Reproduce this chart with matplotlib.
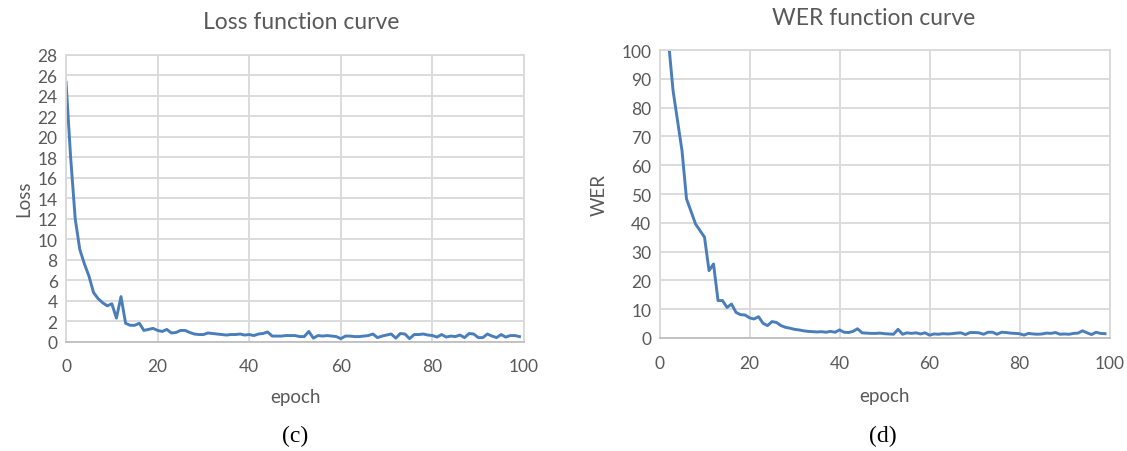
import matplotlib.pyplot as plt

# Loss per epoch (epochs 0..99)
loss_epochs = list(range(0, 100))
loss_values = [
    25.3, 18.0, 12.0, 9.0, 7.6, 6.4, 4.8, 4.2, 3.8, 3.5,
    3.7, 2.3, 4.4, 1.8, 1.6, 1.6, 1.8, 1.1, 1.2, 1.3,
    1.1, 1.0, 1.2, 0.85, 0.9, 1.1, 1.1, 0.9, 0.75, 0.7,
    0.7, 0.85, 0.8, 0.75, 0.7, 0.65, 0.7, 0.7, 0.75, 0.65,
    0.7, 0.6, 0.75, 0.8, 0.95, 0.55, 0.55, 0.55, 0.6, 0.6,
    0.6, 0.5, 0.5, 1.0, 0.35, 0.6, 0.55, 0.6, 0.55, 0.5,
    0.3, 0.55, 0.55, 0.5, 0.5, 0.55, 0.6, 0.75, 0.4, 0.55,
    0.65, 0.75, 0.35, 0.8, 0.75, 0.3, 0.7, 0.7, 0.75, 0.65,
    0.6, 0.45, 0.7, 0.45, 0.55, 0.5, 0.65, 0.4, 0.8, 0.75,
    0.4, 0.4, 0.75, 0.55, 0.4, 0.7, 0.45, 0.6, 0.6, 0.5,
]

# WER per epoch (epochs 2..99, earlier values are off the chart)
wer_epochs = list(range(2, 100))
wer_values = [
    103, 86, 75.5, 65, 48.3, 44, 39.6, 37.3, 35,
    23.4, 25.7, 13, 13, 10.6, 11.8, 8.9, 8.1, 8.0, 7.0,
    6.6, 7.4, 5.1, 4.3, 5.7, 5.4, 4.3, 3.7, 3.4, 3.0,
    2.8, 2.5, 2.3, 2.2, 2.1, 2.2, 2.0, 2.3, 2.0, 2.8,
    2.0, 1.9, 2.3, 3.2, 1.8, 1.7, 1.6, 1.6, 1.7, 1.5,
    1.4, 1.3, 3.0, 1.3, 1.8, 1.6, 1.8, 1.4, 1.8, 1.0,
    1.4, 1.3, 1.5, 1.4, 1.5, 1.7, 1.8, 1.2, 1.9, 1.9,
    1.8, 1.3, 2.0, 2.0, 1.3, 2.0, 1.9, 1.7, 1.6, 1.5,
    1.0, 1.6, 1.4, 1.3, 1.4, 1.7, 1.6, 1.9, 1.3, 1.4,
    1.3, 1.6, 1.7, 2.5, 1.8, 1.2, 2.0, 1.6, 1.5,
]

x_ticks = [0, 20, 40, 60, 80, 100]
loss_ticks = list(range(0, 29, 2))
wer_ticks = list(range(0, 101, 10))

plt.rcParams['font.family'] = ['Lato', 'DejaVu Sans']
texto = '#595959'
grade = '#d9d9d9'
azul = '#4a7ebb'

fig = plt.figure(figsize=(11.27, 4.52), dpi=100)
ax1 = fig.add_axes([0.0586, 0.2418, 0.4064, 0.635])
ax2 = fig.add_axes([0.5852, 0.25, 0.3993, 0.637])


def estilo(ax, yticks, ylim):
    ax.set_xlim(0, 100)
    ax.set_ylim(*ylim)
    ax.set_xticks(x_ticks)
    ax.set_yticks(yticks)
    ax.grid(True, color=grade, linewidth=1.3)
    ax.set_axisbelow(True)
    ax.tick_params(length=0, labelsize=12.5, colors=texto, pad=6)
    ax.tick_params(axis='x', pad=12)
    for lado in ax.spines.values():
        lado.set_color(grade)
        lado.set_linewidth(1.3)
    ax.spines['bottom'].set_color('#bfbfbf')


ax1.plot(loss_epochs, loss_values, color=azul, linewidth=2.1)
estilo(ax1, loss_ticks, (0, 28))
ax1.set_xlabel('epoch', fontsize=13.5, color=texto, labelpad=10)
ax1.set_ylabel('Loss', fontsize=13.5, color=texto, labelpad=4)
ax1.set_title('Loss function curve', fontsize=16.5, color=texto, pad=19, x=0.513)

ax2.plot(wer_epochs, wer_values, color=azul, linewidth=2.1)
estilo(ax2, wer_ticks, (0, 100))
ax2.set_xlabel('epoch', fontsize=13.5, color=texto, labelpad=12)
ax2.set_ylabel('WER', fontsize=13.5, color=texto, labelpad=10)
ax2.set_title('WER function curve', fontsize=16.5, color=texto, pad=19, x=0.475)

fig.text(0.262, 0.035, '(c)', fontsize=17, family='Liberation Serif',
         ha='center', va='center')
fig.text(0.783, 0.035, '(d)', fontsize=17, family='Liberation Serif',
         ha='center', va='center')

fig.savefig('out.png', dpi=100)
